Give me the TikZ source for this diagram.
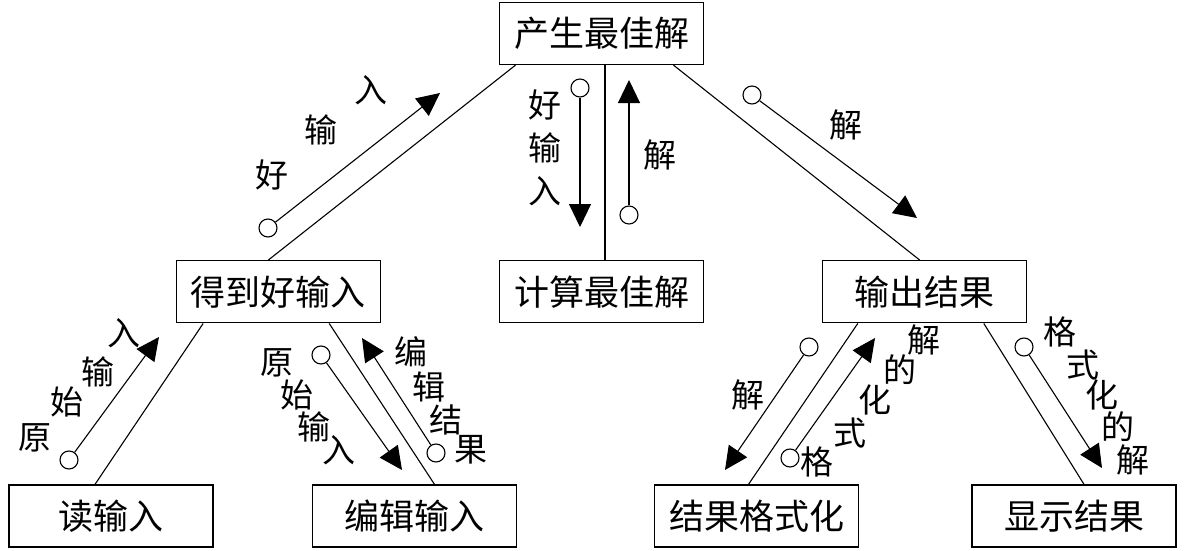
\documentclass[tikz,border=0pt]{standalone}
\usepackage{fontspec}
\usepackage{tikz}
\usetikzlibrary{arrows.meta,positioning}
\newfontfamily\cjk{Noto Sans CJK SC}

\begin{document}
\begin{tikzpicture}[
  x=1pt,y=-1pt,
  module/.style={draw,rectangle,minimum width=204pt,minimum height=62pt,font=\cjk\fontsize{35}{35}\selectfont,align=center,line width=1.3pt},
  link/.style={line width=1.1pt},
  port/.style={draw,circle,fill=white,minimum size=18pt,inner sep=0pt,line width=1.1pt},
  flow/.style={-{Triangle[length=23pt,width=22pt]},line width=1.1pt},
  lab/.style={font=\cjk\fontsize{33}{43}\selectfont,inner sep=0pt,align=center}
]
\useasboundingbox (0,0) rectangle (1184,551);

% Modules
\node[module] (top) at (601.5,33.5) {产生最佳解};
\node[module,below=195pt of top] (calc) {计算最佳解};
\node[module,left=118pt of calc] (get) {得到好输入};
\node[module,right=118pt of calc] (out) {输出结果};
\node[module] (read) at (111,516) {读输入};
\node[module] (edit) at (414.5,516) {编辑输入};
\node[module] (fmt) at (756.5,516) {结果格式化};
\node[module] (show) at (1074,516) {显示结果};

% Structure links
\draw[link] ([xshift=-86pt]top.south) -- ([xshift=-10pt]get.north);
\draw[link] ([xshift=3.5pt]top.south) -- ([xshift=3.5pt]calc.north);
\draw[link] ([xshift=72pt]top.south) -- ([xshift=-5pt]out.north);
\draw[link] ([xshift=-75pt]get.south) -- ([xshift=-16pt]read.north);
\draw[link] ([xshift=51pt]get.south) -- ([xshift=20pt]edit.north);
\draw[link] ([xshift=-67pt]out.south) -- ([xshift=-8pt]fmt.north);
\draw[link] ([xshift=59pt]out.south) -- ([xshift=10pt]show.north);

% Data flow tails and heads
\node[port] (p1) at (268,228) {};  \coordinate (t1) at (440,93);
\node[port] (p2) at (580,88) {};   \coordinate (t2) at (580,227);
\node[port] (p3) at (629,215) {};  \coordinate (t3) at (629,80);
\node[port] (p4) at (752,95) {};   \coordinate (t4) at (917,218);
\node[port] (p5) at (69,460) {};   \coordinate (t5) at (159,337);
\node[port] (p6) at (321,355) {};  \coordinate (t6) at (402,470);
\node[port] (p7) at (436,453) {};  \coordinate (t7) at (362,338);
\node[port] (p8) at (809,347) {};  \coordinate (t8) at (725,470);
\node[port] (p9) at (790,458) {};  \coordinate (t9) at (875,338);
\node[port] (p10) at (1024,347) {}; \coordinate (t10) at (1102,468);

\draw[flow] (p1) -- (t1);
\draw[flow] (p2) -- (t2);
\draw[flow] (p3) -- (t3);
\draw[flow] (p4) -- (t4);
\draw[flow] (p5) -- (t5);
\draw[flow] (p6) -- (t6);
\draw[flow] (p7) -- (t7);
\draw[flow] (p8) -- (t8);
\draw[flow] (p9) -- (t9);
\draw[flow] (p10) -- (t10);

% Data flow labels
\node[lab] (l1a) at (272,175) {好};
\node[lab] (l1b) at (321,130) {输};
\node[lab] (l1c) at (371,90) {入};
\node[lab] (l2) at (545,148) {好\\输\\入};
\node[lab] (l3) at (660,155) {解};
\node[lab] (l4) at (846,125) {解};
\node[lab] (l5a) at (35,438) {原};
\node[lab] (l5b) at (67,402) {始};
\node[lab] (l5c) at (98,372) {输};
\node[lab] (l5d) at (124,333) {入};
\node[lab] (l6a) at (277,363) {原};
\node[lab] (l6b) at (297,395) {始};
\node[lab] (l6c) at (314,427) {输};
\node[lab] (l6d) at (339,450) {入};
\node[lab] (l7a) at (411,352) {编};
\node[lab] (l7b) at (429,387) {辑};
\node[lab] (l7c) at (446,420) {结};
\node[lab] (l7d) at (471,450) {果};
\node[lab] (l8) at (748,395) {解};
\node[lab] (l9a) at (817,462) {格};
\node[lab] (l9b) at (850,433) {式};
\node[lab] (l9c) at (875,400) {化};
\node[lab] (l9d) at (900,370) {的};
\node[lab] (l9e) at (924,340) {解};
\node[lab] (l10a) at (1060,332) {格};
\node[lab] (l10b) at (1083,365) {式};
\node[lab] (l10c) at (1102,395) {化};
\node[lab] (l10d) at (1118,427) {的};
\node[lab] (l10e) at (1133,460) {解};

\end{tikzpicture}
\end{document}
